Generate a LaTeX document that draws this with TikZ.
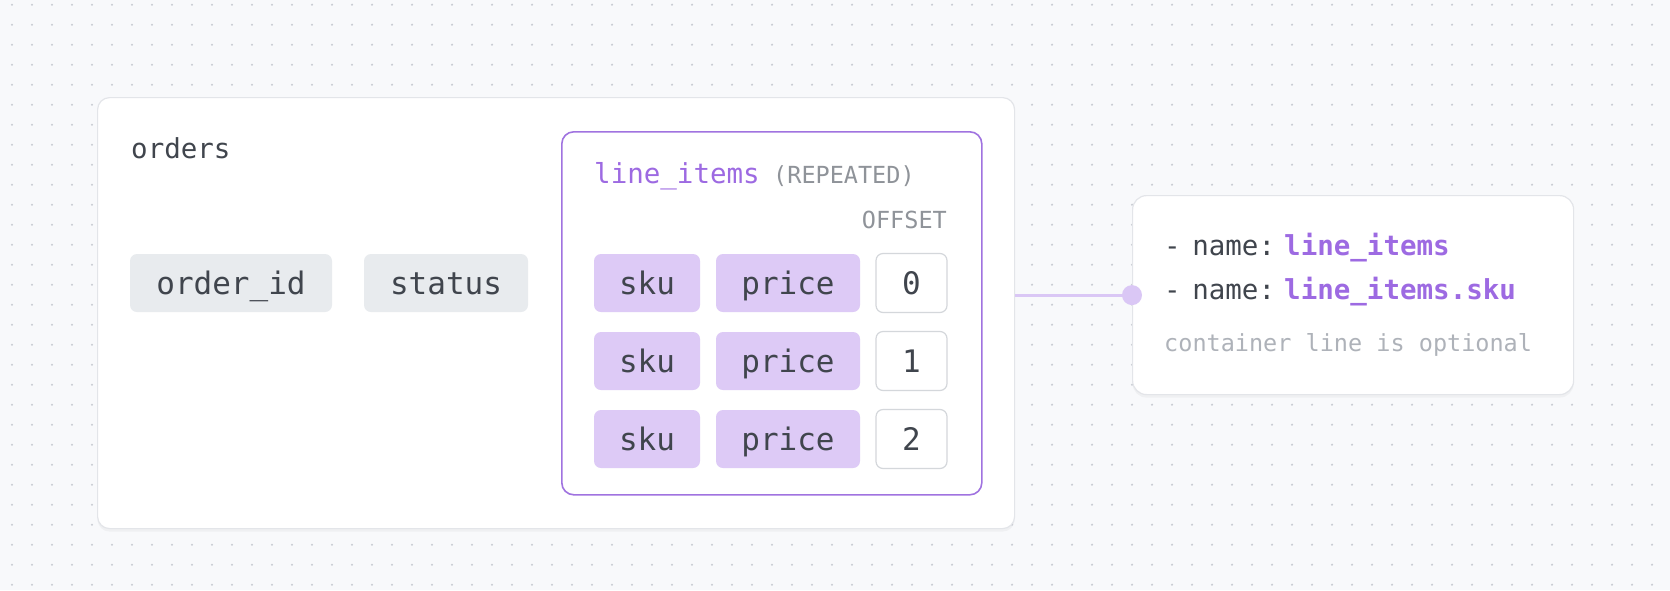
\documentclass[tikz,border=0pt]{standalone}
\usepackage{fontspec}
\setmainfont{DejaVu Sans Mono}
\usetikzlibrary{shadows}
\definecolor{bgColor}{HTML}{F8F9FB}
\definecolor{dotColor}{HTML}{C9CCD3}
\definecolor{cardLine}{HTML}{E3E5E9}
\definecolor{chipGray}{HTML}{E8EBEE}
\definecolor{chipPurple}{HTML}{DDCAF6}
\definecolor{purpleLine}{HTML}{A073E0}
\definecolor{purpleInk}{HTML}{9D6AE2}
\definecolor{inkDark}{HTML}{40454D}
\definecolor{inkGray}{HTML}{8F9399}
\definecolor{inkLight}{HTML}{AEB2B9}
\definecolor{offsetLine}{HTML}{D4D7DB}
\definecolor{linkColor}{HTML}{DAC7F5}
\newcommand{\chipHeight}{58pt}
\newcommand{\chipFont}{\fontsize{31}{36}\selectfont}
\newcommand{\headFont}{\fontsize{27.5}{33}\selectfont}
\newcommand{\smallFont}{\fontsize{23.5}{28}\selectfont}
\newcommand{\pageWidth}{1670}
\newcommand{\pageHeight}{590}
\begin{document}
\begin{tikzpicture}[x=1pt, y=-1pt,
    card/.style={rectangle, draw=cardLine, fill=white, line width=1.2pt, inner sep=0pt, anchor=north west,
      drop shadow={opacity=0.07, shadow xshift=0pt, shadow yshift=-3pt}},
    chip/.style={rectangle, rounded corners=7pt, inner sep=0pt, minimum height=\chipHeight,
      text height=22pt, text depth=0pt, font=\chipFont, text=inkDark},
    grayChip/.style={chip, fill=chipGray},
    purpleChip/.style={chip, fill=chipPurple},
    offsetBox/.style={chip, fill=white, draw=offsetLine, line width=1.2pt, minimum width=71pt, minimum height=59pt},
    label/.style={anchor=base west, inner sep=0pt},
    link/.style={draw=linkColor, line width=3pt}]
  \useasboundingbox (0,0) rectangle (\pageWidth,\pageHeight);
  \fill[bgColor] (0,0) rectangle (\pageWidth,\pageHeight);
  \foreach \i in {0,...,83}
    \foreach \j in {0,...,29}
      \fill[dotColor] (12+20*\i, 4.7+20*\j) circle (1.2);

  \node[card, rounded corners=12pt, minimum width=917pt, minimum height=431pt] (orders) at (97,97) {};
  \node[label, font=\headFont, text=inkDark] (ordersTitle) at (131,158) {orders};
  \node[grayChip, minimum width=202pt] (orderId) at (231,283) {order\_id};
  \node[grayChip, minimum width=164pt] (status) at (446,283) {status};

  \node[rectangle, draw=purpleLine, fill=white, line width=1.6pt, rounded corners=12pt, inner sep=0pt,
    anchor=north west, minimum width=420pt, minimum height=363pt] (lineItems) at (561,131) {};
  \node[label, font=\headFont, text=purpleInk] (lineItemsTitle) at (594,183) {line\_items};
  \node[label, font=\smallFont, text=inkGray] (repeatedTag) at (773,183) {(REPEATED)};
  \node[label, anchor=base east, font=\smallFont, text=inkGray] (offsetHead) at (947,228) {OFFSET};

  \node[purpleChip, minimum width=106pt] (skuA) at (647,283) {sku};
  \node[purpleChip, minimum width=144pt] (priceA) at (788,283) {price};
  \node[offsetBox] (offsetA) at (911.5,283) {0};
  \node[purpleChip, minimum width=106pt] (skuB) at (647,361) {sku};
  \node[purpleChip, minimum width=144pt] (priceB) at (788,361) {price};
  \node[offsetBox] (offsetB) at (911.5,361) {1};
  \node[purpleChip, minimum width=106pt] (skuC) at (647,439) {sku};
  \node[purpleChip, minimum width=144pt] (priceC) at (788,439) {price};
  \node[offsetBox] (offsetC) at (911.5,439) {2};

  \node[card, rounded corners=14pt, minimum width=441pt, minimum height=199pt] (note) at (1132,195) {};
  \node[label, font=\headFont, text=inkDark] (nameA) at (1164,255) {-\hspace{-5pt} name:};
  \node[label, font=\headFont\bfseries, text=purpleInk] (valueA) at (1284,255) {line\_items};
  \node[label, font=\headFont, text=inkDark] (nameB) at (1164,299) {-\hspace{-5pt} name:};
  \node[label, font=\headFont\bfseries, text=purpleInk] (valueB) at (1284,299) {line\_items.sku};
  \node[label, font=\smallFont, text=inkLight] (noteHint) at (1164,351) {container line is optional};

  \draw[link] (orders.east |- note.west) -- (note.west);
  \fill[linkColor] (note.west) circle (10);
\end{tikzpicture}
\end{document}
